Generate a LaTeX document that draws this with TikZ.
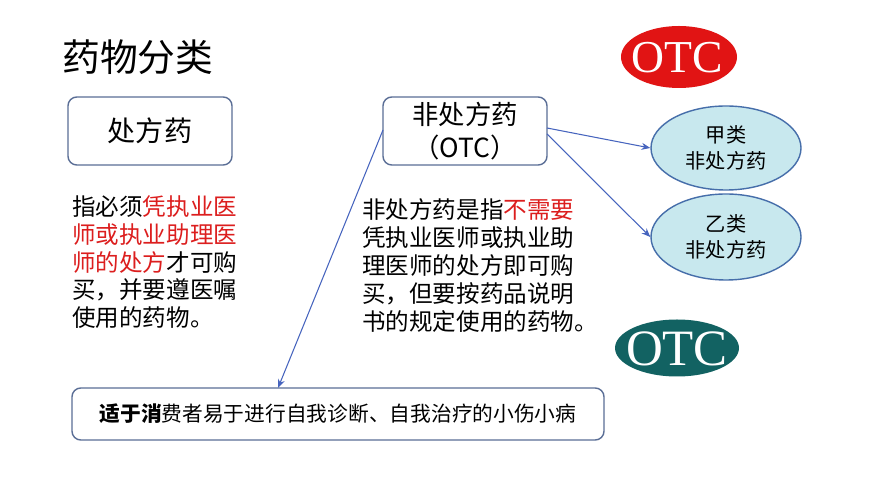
\documentclass[tikz,border=0pt]{standalone}
\usepackage{fontspec}
\setmainfont{Noto Sans CJK SC}
\newfontfamily\otcfont{Liberation Serif}
\usetikzlibrary{arrows.meta,shapes.geometric}
\definecolor{boxline}{RGB}{90,110,150}
\definecolor{ellfill}{RGB}{200,232,238}
\definecolor{ellline}{RGB}{70,110,170}
\definecolor{arr}{RGB}{70,100,190}
\definecolor{otcred}{RGB}{225,20,20}
\definecolor{otcteal}{RGB}{18,98,98}
\definecolor{txtred}{RGB}{220,30,30}
\tikzset{
 box/.style={draw=boxline,line width=0.8pt,rounded corners=5pt,fill=white},
 ell/.style={draw=ellline,fill=ellfill,ellipse,line width=0.8pt,inner sep=0pt},
 con/.style={draw=arr,line width=0.6pt,-{Stealth[length=5pt,width=4pt]}},
 body/.style={font=\fontsize{13.4pt}{15.9pt}\selectfont,align=left,anchor=north west,inner sep=0pt},
 otc/.style={text=white,font=\otcfont\fontsize{#1}{#1}\selectfont,inner sep=0pt},
}
\begin{document}
\begin{tikzpicture}[x=0.02cm,y=-0.02cm]
\useasboundingbox[fill=white] (0,0) rectangle (870,489);
\node[anchor=west,inner sep=0pt,font=\fontsize{21.5pt}{24pt}\selectfont] (title) at (62,57) {药物分类};
\fill[otcred] (679,57) ellipse [x radius=58,y radius=31];
\node[otc=26pt] (otc1) at (677,58) {OTC};
\fill[otcteal] (677,348) ellipse [x radius=62,y radius=28.5];
\node[otc=29pt] (otc2) at (677,349) {OTC};
\draw[box] (68,97) rectangle (232,165);
\node[font=\fontsize{16pt}{18pt}\selectfont] (rx) at (150,131) {处方药};
\draw[box] (383,97) rectangle (547,165);
\node[font=\fontsize{15pt}{19pt}\selectfont,align=center] (otcbox) at (465,131) {非处方药\\（OTC）};
\coordinate (b2r1) at (547,128);
\coordinate (b2r2) at (547,134);
\coordinate (b2l) at (383,130);
\node[ell,minimum width=150*0.02cm,minimum height=84*0.02cm,align=center,font=\fontsize{11.5pt}{15pt}\selectfont] (jia) at (726,148) {甲类\\非处方药};
\node[ell,minimum width=150*0.02cm,minimum height=86*0.02cm,align=center,font=\fontsize{11.5pt}{15pt}\selectfont] (yi) at (726,237) {乙类\\非处方药};
\draw[con] (b2r1) -- (jia.west);
\draw[con] (b2r2) -- (yi.west);
\node[body] (t1) at (72,195) {指必须\textcolor{txtred}{凭执业医}\\\textcolor{txtred}{师或执业助理医}\\\textcolor{txtred}{师的处方}才可购\\买，并要遵医嘱\\使用的药物。};
\node[body] (t2) at (362,198) {非处方药是指\textcolor{txtred}{不需要}\\凭执业医师或执业助\\理医师的处方即可购\\买，但要按药品说明\\书的规定使用的药物。};
\draw[box] (72,388) rectangle (604,440);
\node[font=\fontsize{11.8pt}{13pt}\selectfont] (bt) at (338,414) {\textbf{适于消}费者易于进行自我诊断、自我治疗的小伤小病};
\coordinate (btop) at (278,388);
\draw[con] (b2l) -- (btop);
\end{tikzpicture}
\end{document}
